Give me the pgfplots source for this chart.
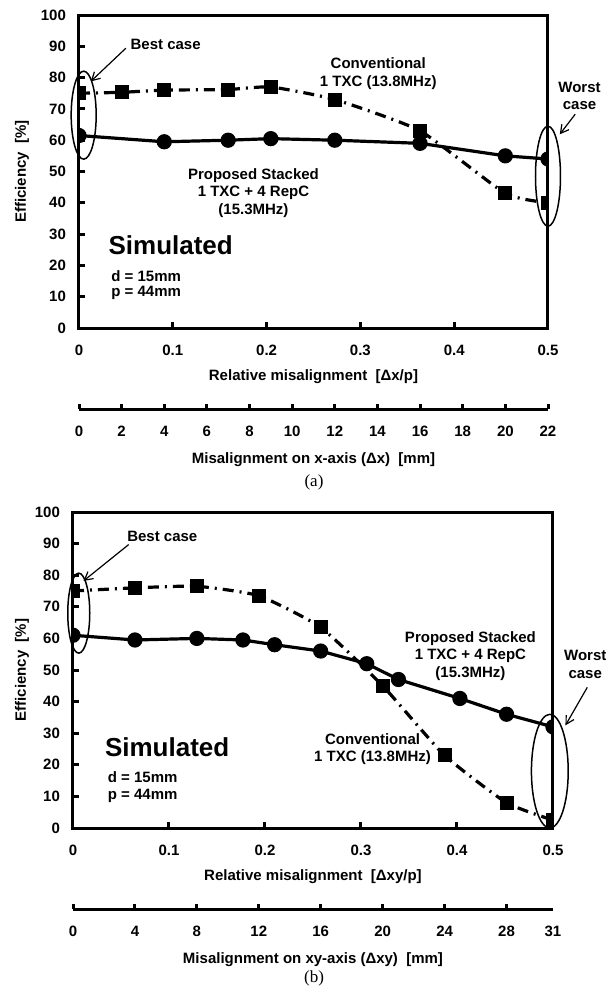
\documentclass[border=0pt]{standalone}
\usepackage{fontspec}
\setmainfont{Liberation Sans}
\newfontfamily\capfont{Liberation Serif}
\usepackage{pgfplots}
\pgfplotsset{compat=1.18}
\usetikzlibrary{arrows.meta}

\newcommand{\lf}{\fontsize{7.5}{8.8}\selectfont\bfseries}

\pgfplotsset{
  mainax/.style={
    scale only axis, anchor=south west,
    xmin=0, xmax=0.5, ymin=0, ymax=100,
    xtick={0,0.1,0.2,0.3,0.4,0.5},
    xticklabels={0,0.1,0.2,0.3,0.4,0.5},
    ytick={0,10,...,100},
    tick align=inside, tick pos=left,
    major tick length=3pt,
    tick style={black, line width=1.5pt},
    axis line style={line width=1.5pt},
    ticklabel style={font=\lf},
    /pgf/number format/assume math mode=true,
    xticklabel style={yshift=-5pt},
    yticklabel style={xshift=-3pt},
    label style={font=\lf},
    ylabel={Efficiency\ \ [\%]},
    xlabel style={at={(axis description cs:0.5,0)}, anchor=center, yshift=-24.5pt},
    clip mode=individual, clip marker paths=true,
  },
  secax/.style={
    scale only axis, anchor=south west, height=10pt,
    ymin=0, ymax=1, hide y axis, axis x line=bottom,
    axis line style={line width=1.5pt, -},
    tick align=inside, major tick length=2.5pt,
    tick style={black, line width=1.5pt},
    ticklabel style={font=\lf},
    /pgf/number format/assume math mode=true,
    xticklabel style={yshift=-5pt},
    label style={font=\lf},
    xlabel style={at={(axis description cs:0.5,0)}, anchor=center, yshift=-25.5pt},
  },
  prop/.style={black, line width=1.6pt, mark=*, mark size=3pt},
  conv/.style={black, line width=1.6pt, dash pattern=on 5.5pt off 3pt on 1pt off 3pt,
    smooth, tension=0.3, mark=square*, mark size=2.7pt, mark options={solid}},
}
\tikzset{
  ell/.style={black, line width=0.75pt},
  arr/.style={black, line width=0.6pt, -{Straight Barb[length=4pt,width=4.5pt]}},
  txt/.style={font=\lf, align=center},
  sim/.style={font=\fontsize{13}{15}\selectfont\bfseries, anchor=west},
}

\begin{document}
\begin{tikzpicture}
\useasboundingbox (0,0) rectangle (308pt,-498.5pt);

% ---- (a) ----
\begin{axis}[mainax, at={(39.5pt,-164pt)}, width=234.5pt, height=156.5pt,
  xlabel={Relative misalignment\ \ [Δx/p]},
  ylabel style={at={(axis description cs:-0.1215,0.5)}, anchor=center}]
\addplot[prop] coordinates {
  (0,61.5) (0.0909,59.5) (0.159,60) (0.2045,60.5) (0.2727,60) (0.3636,59) (0.4545,55) (0.5,54)
};
\addplot[conv] coordinates {
  (0,75) (0.0455,75.3) (0.0909,76) (0.159,76.2) (0.2045,77) (0.2727,73) (0.3636,63) (0.4545,43) (0.5,40)
};
\draw[ell] (axis cs:0.005,68) ellipse [x radius=6.25pt, y radius=22pt];
\draw[ell] (axis cs:0.5,48.5) ellipse [x radius=6.25pt, y radius=25pt];
\draw[arr] (axis cs:0.05,89.4) -- (axis cs:0.0126,78.8);
\draw[arr] (axis cs:0.529,68.3) -- (axis cs:0.5126,61.9);
\node[txt] at (axis cs:0.0924,90.5) {Best case};
\node[txt] at (axis cs:0.319,81.3) {Conventional\\1 TXC (13.8MHz)};
\node[txt] at (axis cs:0.5336,74.2) {Worst\\case};
\node[txt] at (axis cs:0.186,43.1) {Proposed Stacked\\1 TXC + 4 RepC\\(15.3MHz)};
\node[sim] at (axis cs:0.024,26.5) {Simulated};
\node[txt, anchor=west] at (axis cs:0.027,16.6) {d = 15mm};
\node[txt, anchor=west] at (axis cs:0.027,11.1) {p = 44mm};
\end{axis}

\begin{axis}[secax, at={(39.5pt,-204.5pt)}, width=234.5pt,
  xmin=0, xmax=22, xtick={0,2,...,22},
  xlabel={Misalignment on x-axis (Δx)\ \ [mm]}]
\end{axis}

\node[font=\capfont\fontsize{8.5}{10}\selectfont] at (157pt,-241pt) {(a)};

% ---- (b) ----
\begin{axis}[mainax, at={(36.5pt,-414pt)}, width=240pt, height=158pt,
  xlabel={Relative misalignment\ \ [Δxy/p]},
  ylabel style={at={(axis description cs:-0.106,0.5)}, anchor=center}]
\addplot[prop] coordinates {
  (0,61) (0.0645,59.5) (0.129,60) (0.177,59.5) (0.21,58) (0.258,56) (0.306,52) (0.339,47) (0.403,41) (0.4516,36) (0.5,32)
};
\addplot[conv] coordinates {
  (0,75) (0.0645,76) (0.129,76.5) (0.1935,73.5) (0.258,63.5) (0.3226,45) (0.387,23) (0.4516,8) (0.5,2.5)
};
\draw[ell] (axis cs:0.006,68) ellipse [x radius=5.5pt, y radius=20pt];
\draw[ell] (axis cs:0.4967,18) ellipse [x radius=9.2pt, y radius=28.4pt];
\draw[arr] (axis cs:0.058,89.7) -- (axis cs:0.011,78.2);
\draw[arr] (axis cs:0.5357,44.5) -- (axis cs:0.513,32.5);
\node[txt] at (axis cs:0.093,92.4) {Best case};
\node[txt] at (axis cs:0.414,54.5) {Proposed Stacked\\1 TXC + 4 RepC\\(15.3MHz)};
\node[txt] at (axis cs:0.312,25) {Conventional\\1 TXC (13.8MHz)};
\node[txt] at (axis cs:0.5336,51.7) {Worst\\case};
\node[sim] at (axis cs:0.026,25.7) {Simulated};
\node[txt, anchor=west] at (axis cs:0.029,16) {d = 15mm};
\node[txt, anchor=west] at (axis cs:0.029,10.3) {p = 44mm};
\end{axis}

\begin{axis}[secax, at={(36.5pt,-454.5pt)}, width=240pt,
  xmin=0, xmax=31, xtick={0,4,...,28},
  extra x ticks={31}, extra tick style={major tick length=0pt},
  xlabel={Misalignment on xy-axis (Δxy)\ \ [mm]}]
\end{axis}

\node[font=\capfont\fontsize{8.5}{10}\selectfont] at (157pt,-489pt) {(b)};
\end{tikzpicture}
\end{document}
